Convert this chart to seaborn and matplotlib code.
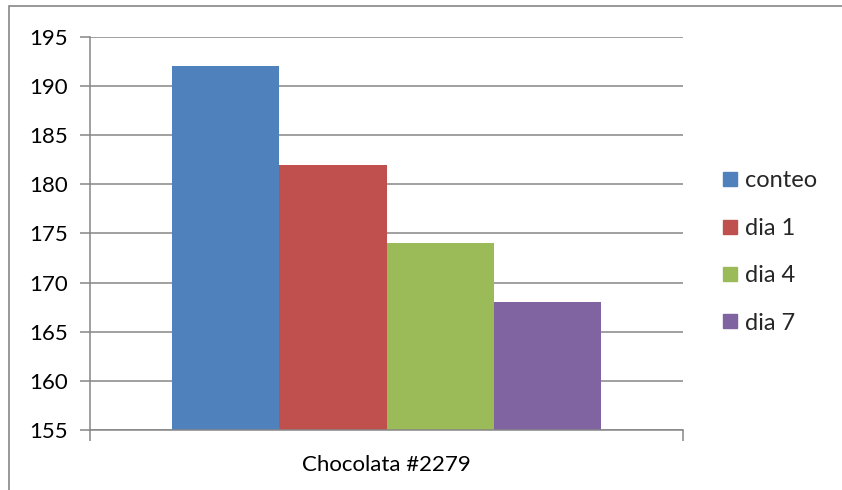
import matplotlib
matplotlib.use("Agg")
import matplotlib.pyplot as plt
from matplotlib.patches import Rectangle
from matplotlib.lines import Line2D
import seaborn as sns
import pandas as pd

# Data
category = ["Chocolata #2279"]
series = ["conteo", "dia 1", "dia 4", "dia 7"]
values = [192, 182, 174, 168]
colors = ["#4F81BD", "#C0504D", "#9BBB59", "#8064A2"]
y_ticks = [155, 160, 165, 170, 175, 180, 185, 190, 195]

df = pd.DataFrame({
    "producto": category * len(series),
    "serie": series,
    "valor": values,
})

sns.set_theme(style="white")
plt.rcParams["font.family"] = ["Lato", "DejaVu Sans"]

W, H = 842, 490
fig = plt.figure(figsize=(W / 100, H / 100), dpi=100)
fig.patch.set_facecolor("white")
ax = fig.add_axes([90 / W, 1 - 430 / H, (683 - 90) / W, (430 - 37) / H])

sns.barplot(data=df, x="producto", y="valor", hue="serie", hue_order=series,
            palette=colors, width=0.724, saturation=1, ax=ax,
            legend=False, linewidth=0, edgecolor="none")

ax.set_xlim(-0.5, 0.5)
ax.set_ylim(155, 195)
ax.set_yticks(y_ticks)
ax.set_yticklabels([str(t) for t in y_ticks], fontsize=16, color="black")
ax.yaxis.grid(True, color="#868686", linewidth=1.1)
ax.set_axisbelow(True)
ax.set_xlabel("")
ax.set_ylabel("")

ax.set_xticks([0])
ax.set_xticklabels(category, fontsize=16, color="black")
ax.set_xticks([-0.5, 0.5], minor=True)
ax.tick_params(axis="x", which="major", length=0, pad=18)
ax.tick_params(axis="x", which="minor", length=8, width=1.1, color="#868686", direction="out", bottom=True)
ax.tick_params(axis="y", length=7, width=1.1, color="#868686", direction="out", left=True, pad=9)

for side in ["top", "right"]:
    ax.spines[side].set_visible(False)
for side in ["left", "bottom"]:
    ax.spines[side].set_visible(True)
    ax.spines[side].set_color("#868686")
    ax.spines[side].set_linewidth(1.1)

# Legend
handles = [Line2D([0], [0], marker="s", linestyle="none", markersize=10,
                  markerfacecolor=c, markeredgecolor=c) for c in colors]
fig.legend(handles, series, loc="center left", bbox_to_anchor=(710 / W, 1 - 252 / H),
           frameon=False, fontsize=17, handlelength=0.7, handletextpad=0.3,
           labelspacing=1.12, borderpad=0)

# Outer chart frame
fig.add_artist(Rectangle((9 / W, -0.1), 1.2, 1 - 6 / H + 0.1, transform=fig.transFigure,
                         fill=False, edgecolor="#868686", linewidth=1.2))

fig.savefig("out.png", dpi=100)
